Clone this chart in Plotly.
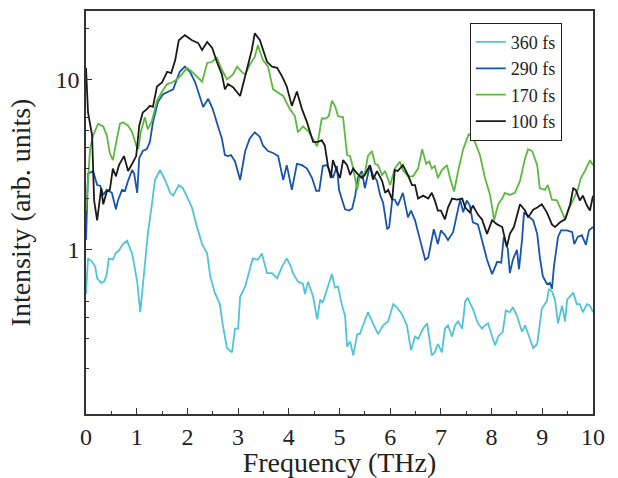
import plotly.graph_objects as go

# ---- data ----
freq_100 = [0.00,0.04,0.12,0.16,0.22,0.30,0.34,0.41,0.47,0.53,0.59,0.65,0.75,0.83,0.91,0.99,1.05,1.12,1.20,1.26,1.32,1.40,1.50,1.60,1.68,1.76,1.83,1.95,2.09,2.21,2.29,2.39,2.49,2.58,2.68,2.74,2.80,2.90,3.04,3.18,3.27,3.33,3.43,3.57,3.67,3.77,3.87,3.96,4.06,4.16,4.26,4.36,4.48,4.58,4.65,4.71,4.77,4.83,4.87,4.95,5.01,5.07,5.15,5.21,5.27,5.35,5.44,5.50,5.60,5.66,5.74,5.84,5.90,5.96,6.04,6.09,6.15,6.25,6.35,6.43,6.49,6.55,6.65,6.75,6.82,6.88,6.94,7.00,7.08,7.14,7.22,7.32,7.42,7.48,7.57,7.63,7.73,7.81,7.91,8.01,8.11,8.21,8.30,8.36,8.44,8.56,8.66,8.72,8.82,8.90,8.99,9.09,9.19,9.25,9.35,9.45,9.55,9.61,9.66,9.74,9.80,9.88,9.94,10.0]
int_100 = [11.7,6.4,4.7,1.95,1.49,2.3,1.85,2.2,2.25,3.0,2.7,3.14,3.55,2.9,3.2,3.55,5.35,6.4,6.7,7.0,6.9,9.1,9.6,11.1,10.9,13.0,17.0,18.2,17.0,16.4,14.9,16.6,15.3,12.7,10.7,8.75,9.4,9.0,8.0,11.7,14.9,18.7,17.0,12.7,11.9,11.7,10.4,9.1,7.0,8.5,6.7,5.6,4.3,4.3,4.4,4.1,3.14,2.64,3.36,2.9,2.64,3.36,3.14,2.75,3.0,2.8,2.64,2.75,3.14,2.58,2.9,2.54,2.16,2.25,1.97,2.94,2.9,3.14,2.75,2.4,2.4,2.0,2.08,2.0,2.16,1.95,1.70,1.70,1.51,1.77,2.0,1.97,2.0,1.77,1.66,1.82,1.61,1.51,1.24,1.49,1.41,1.36,1.04,1.24,1.36,1.85,1.70,1.55,1.72,1.77,1.85,1.66,1.41,1.36,1.45,1.51,1.85,2.3,2.25,1.95,2.08,1.82,1.70,2.08]

freq_170 = [0.00,0.08,0.14,0.24,0.34,0.41,0.47,0.53,0.61,0.67,0.73,0.83,0.91,0.99,1.03,1.08,1.16,1.22,1.30,1.40,1.50,1.60,1.70,1.79,1.89,1.99,2.09,2.19,2.29,2.39,2.49,2.58,2.68,2.78,2.90,2.98,3.08,3.14,3.23,3.33,3.39,3.49,3.59,3.69,3.79,3.89,4.02,4.12,4.18,4.28,4.38,4.48,4.56,4.65,4.73,4.79,4.85,4.91,4.97,5.07,5.15,5.21,5.27,5.35,5.40,5.50,5.56,5.64,5.70,5.76,5.84,5.90,6.00,6.09,6.15,6.19,6.25,6.35,6.45,6.55,6.63,6.71,6.77,6.82,6.88,6.94,7.02,7.12,7.18,7.26,7.34,7.44,7.55,7.67,7.77,7.87,7.97,8.05,8.13,8.21,8.26,8.36,8.46,8.56,8.66,8.72,8.80,8.90,8.95,9.05,9.11,9.19,9.29,9.39,9.45,9.51,9.61,9.70,9.76,9.84,9.94,10.0]
int_170 = [1.70,3.9,4.7,5.5,5.3,4.7,3.7,3.36,4.5,5.5,5.6,5.35,4.9,4.1,3.9,4.9,6.0,5.1,5.7,7.5,8.5,9.4,9.6,10.0,10.7,11.7,11.1,10.3,9.7,12.5,12.7,13.4,11.4,10.0,10.7,11.9,11.0,10.7,12.2,13.6,15.9,13.0,11.9,8.75,8.4,8.0,6.7,6.1,4.9,5.3,5.0,4.4,4.05,5.9,5.9,6.1,7.5,7.0,6.1,6.0,3.6,3.55,3.0,2.25,2.75,2.8,3.55,3.8,3.2,3.14,2.75,2.9,2.4,3.0,3.2,3.3,2.94,2.7,2.7,3.0,3.9,3.2,3.3,3.0,3.1,2.64,2.94,3.14,2.64,2.2,2.9,3.9,4.8,4.3,3.6,2.64,2.1,1.49,1.85,2.0,2.16,2.1,2.16,2.54,3.45,3.9,3.8,3.14,2.3,2.25,2.4,1.97,1.95,1.66,1.51,1.70,1.95,2.25,2.64,2.9,3.36,3.14]

freq_290 = [0.00,0.04,0.14,0.22,0.28,0.34,0.41,0.51,0.59,0.63,0.71,0.77,0.83,0.91,0.95,1.01,1.05,1.12,1.20,1.26,1.32,1.42,1.52,1.62,1.72,1.79,1.85,1.95,2.05,2.15,2.25,2.31,2.41,2.50,2.60,2.68,2.74,2.80,2.86,2.94,3.04,3.14,3.23,3.33,3.43,3.49,3.59,3.69,3.79,3.89,3.96,4.06,4.16,4.26,4.36,4.46,4.54,4.60,4.67,4.75,4.81,4.87,4.95,4.99,5.05,5.11,5.19,5.25,5.31,5.36,5.44,5.50,5.60,5.66,5.74,5.80,5.86,5.94,5.98,6.04,6.09,6.15,6.25,6.35,6.41,6.49,6.59,6.69,6.75,6.82,6.86,6.94,7.00,7.08,7.14,7.24,7.32,7.38,7.44,7.51,7.57,7.63,7.73,7.81,7.91,8.01,8.11,8.19,8.24,8.32,8.36,8.42,8.50,8.54,8.60,8.64,8.72,8.82,8.90,8.95,9.01,9.09,9.15,9.19,9.23,9.31,9.37,9.49,9.59,9.63,9.70,9.78,9.86,9.92,10.0]
int_290 = [1.14,2.8,2.9,2.4,2.38,2.1,2.25,2.16,1.73,1.95,2.25,2.22,2.54,2.94,2.8,2.16,3.45,3.8,3.9,4.3,5.6,7.4,8.2,8.5,8.75,10.0,11.1,11.9,11.1,9.7,7.7,6.9,7.7,6.7,5.35,4.5,3.6,3.55,3.6,3.3,2.57,3.8,4.5,4.9,4.6,4.1,3.8,3.7,3.55,2.57,3.14,2.25,3.2,3.14,3.0,2.64,2.22,2.22,3.1,3.14,2.9,2.64,3.1,2.25,1.97,1.73,1.70,1.75,2.08,2.64,2.9,2.3,3.14,2.75,2.54,2.1,1.89,1.32,1.36,1.97,1.97,1.82,2.16,1.55,1.70,1.49,1.14,0.875,0.90,1.14,1.32,1.08,1.30,1.22,1.14,1.27,1.61,1.97,1.66,1.95,1.82,1.45,1.41,1.14,0.875,0.72,0.85,0.84,1.19,1.01,0.73,0.875,1.0,0.77,1.14,1.66,1.59,1.49,1.24,0.91,0.70,0.63,0.64,0.59,0.80,1.19,1.30,1.30,1.27,1.08,1.19,1.22,1.07,1.30,1.36]

freq_360 = [0.00,0.04,0.12,0.18,0.22,0.30,0.36,0.41,0.45,0.53,0.59,0.65,0.73,0.81,0.91,1.01,1.07,1.14,1.22,1.30,1.36,1.46,1.56,1.66,1.72,1.83,1.91,2.01,2.09,2.19,2.29,2.39,2.45,2.54,2.64,2.70,2.78,2.88,2.94,3.00,3.04,3.14,3.23,3.29,3.39,3.47,3.57,3.67,3.77,3.87,3.96,4.04,4.08,4.18,4.28,4.32,4.38,4.48,4.56,4.62,4.67,4.77,4.85,4.91,4.97,5.05,5.11,5.15,5.21,5.27,5.35,5.40,5.46,5.56,5.66,5.76,5.86,5.96,6.06,6.13,6.23,6.33,6.41,6.49,6.55,6.65,6.73,6.82,6.88,6.94,7.02,7.08,7.14,7.22,7.28,7.34,7.42,7.48,7.53,7.63,7.73,7.81,7.87,7.93,8.01,8.07,8.13,8.22,8.28,8.36,8.42,8.50,8.60,8.66,8.74,8.82,8.90,8.99,9.09,9.13,9.19,9.25,9.31,9.39,9.45,9.49,9.61,9.68,9.74,9.80,9.88,9.94,10.0]
int_360 = [0.55,0.89,0.85,0.80,0.68,0.64,0.65,0.72,0.89,0.875,0.96,0.99,1.08,1.13,0.95,0.65,0.43,0.73,1.24,1.85,2.57,2.94,2.57,2.16,2.08,2.4,2.3,2.0,1.77,1.36,1.08,0.95,0.70,0.56,0.48,0.36,0.265,0.25,0.345,0.345,0.53,0.61,0.77,0.89,0.875,0.95,0.73,0.73,0.68,0.80,0.89,0.80,0.73,0.65,0.63,0.55,0.65,0.53,0.39,0.51,0.49,0.60,0.72,0.60,0.61,0.47,0.41,0.27,0.29,0.24,0.32,0.32,0.36,0.43,0.37,0.32,0.36,0.38,0.48,0.46,0.42,0.36,0.257,0.31,0.30,0.345,0.37,0.24,0.25,0.28,0.25,0.345,0.36,0.31,0.36,0.38,0.345,0.50,0.52,0.45,0.37,0.345,0.36,0.37,0.31,0.275,0.31,0.33,0.44,0.43,0.46,0.41,0.33,0.36,0.31,0.265,0.28,0.45,0.50,0.59,0.57,0.51,0.37,0.47,0.38,0.51,0.56,0.48,0.48,0.43,0.48,0.47,0.43]

series_names = ["360 fs", "290 fs", "170 fs", "100 fs"]
series_colors = ["#4fc4d8", "#1655aa", "#5bba3e", "#1a1a1a"]
x_ticks = [0, 1, 2, 3, 4, 5, 6, 7, 8, 9, 10]
y_ticks = [1, 10]
y_minor = [0.2, 0.3, 0.4, 0.5, 2, 3, 4, 5, 6, 20]

FONT = "Times New Roman, Liberation Serif, serif"

fig = go.Figure()
for name, color, xs, ys in zip(series_names, series_colors,
                                [freq_360, freq_290, freq_170, freq_100],
                                [int_360, int_290, int_170, int_100]):
    fig.add_trace(go.Scatter(x=xs, y=ys, mode="lines", name=name,
                             line=dict(color=color, width=1.8)))

axis_common = dict(showgrid=False, zeroline=False, showline=True, mirror=True,
                   linecolor="#333333", linewidth=1.5, ticks="inside",
                   tickcolor="#333333", ticklen=6, tickwidth=1,
                   tickfont=dict(family=FONT, size=24, color="#222222"))

fig.update_xaxes(range=[0, 10], tickvals=x_ticks,
                 minor=dict(tickvals=[v + 0.5 for v in x_ticks[:-1]], ticks="inside",
                            ticklen=3, tickcolor="#333333"),
                 title=dict(text="Frequency (THz)", font=dict(family=FONT, size=28, color="#222222"),
                            standoff=0),
                 **axis_common)
fig.update_yaxes(type="log", range=[-0.964, 1.402], tickvals=y_ticks,
                 ticktext=["1", "10"],
                 minor=dict(tickvals=y_minor, ticks="inside", ticklen=3, tickcolor="#333333"),
                 title=dict(text="Intensity (arb. units)", font=dict(family=FONT, size=28, color="#222222"),
                            standoff=17),
                 **axis_common)

fig.update_layout(
    width=618, height=478,
    margin=dict(l=86, r=25, t=9, b=59),
    plot_bgcolor="white", paper_bgcolor="white",
    showlegend=True,
    legend=dict(x=0.757, y=0.971, xanchor="left", yanchor="top",
                bgcolor="white", bordercolor="#222222", borderwidth=1,
                font=dict(family=FONT, size=18, color="#222222"),
                tracegroupgap=0, itemwidth=30),
    font=dict(family=FONT),
)

fig.write_html("out.html", config={"displayModeBar": False},
               post_script="document.body.style.margin='0';document.body.style.overflow='hidden';")
